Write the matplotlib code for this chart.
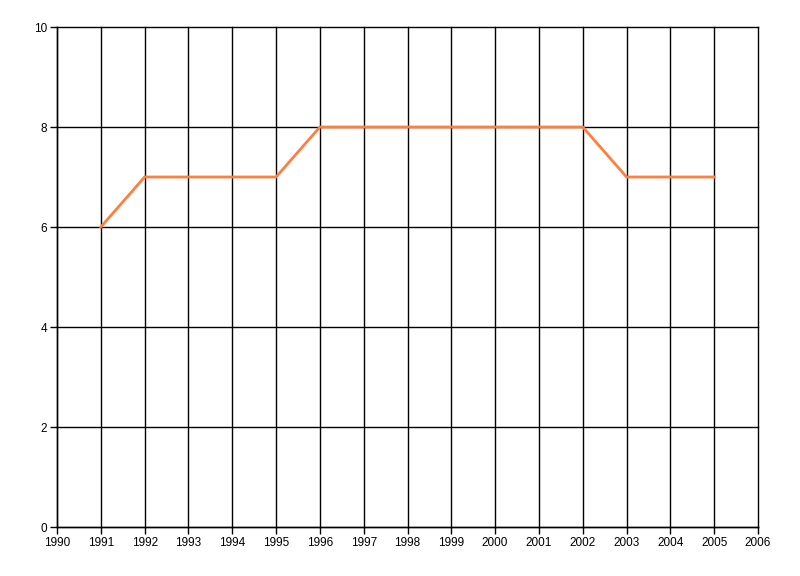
import matplotlib
matplotlib.use("Agg")
import matplotlib.pyplot as plt

years = [1991, 1992, 1993, 1994, 1995, 1996, 1997, 1998, 1999, 2000, 2001, 2002, 2003, 2004, 2005]
values = [6, 7, 7, 7, 7, 8, 8, 8, 8, 8, 8, 8, 7, 7, 7]
x_ticks = list(range(1990, 2007))
y_ticks = [0, 2, 4, 6, 8, 10]

plt.rcParams["font.family"] = ["Liberation Sans", "DejaVu Sans"]

fig = plt.figure(figsize=(8, 5.76), dpi=100)
ax = fig.add_axes([57 / 800, 1 - 527 / 576, (758 - 57) / 800, 500 / 576])

ax.plot(years, values, color="#FF7F3F", linewidth=2, zorder=3)

ax.set_xlim(1990, 2006)
ax.set_ylim(0, 10)
ax.set_xticks(x_ticks)
ax.set_xticklabels([str(y) for y in x_ticks])
ax.set_yticks(y_ticks)
ax.grid(True, color="black", linewidth=1)
ax.set_axisbelow(True)
# keep the edge grid lines (2006, 10) fully drawn
for gl in ax.get_xgridlines() + ax.get_ygridlines():
    gl.set_clip_on(False)

for side in ["top", "right"]:
    ax.spines[side].set_visible(False)
for side in ["left", "bottom"]:
    ax.spines[side].set_linewidth(1)

ax.tick_params(axis="both", length=5, width=1, color="black", labelsize=8.5, pad=2)

fig.savefig("out.png", dpi=100)
